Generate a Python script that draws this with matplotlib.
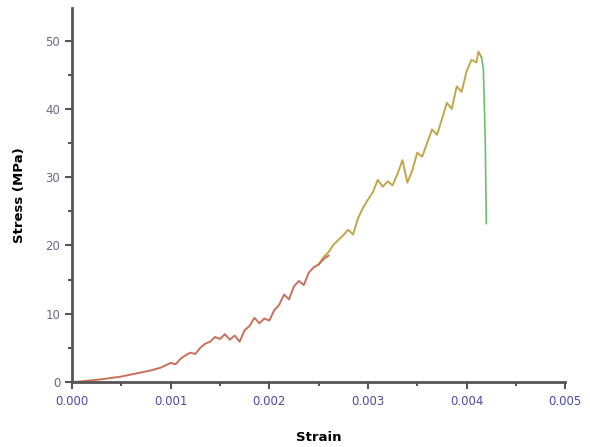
import matplotlib
matplotlib.use("Agg")
from matplotlib import pyplot as plt
from matplotlib.ticker import MultipleLocator

# loading part (red)
strain_a = [0, 0.0001, 0.0002, 0.0003, 0.0004, 0.0005, 0.0006, 0.0007, 0.0008, 0.0009,
            0.0010, 0.00105, 0.0011, 0.00115, 0.0012, 0.00125, 0.0013, 0.00135, 0.0014,
            0.00145, 0.0015, 0.00155, 0.0016, 0.00165, 0.0017, 0.00175, 0.0018, 0.00185,
            0.0019, 0.00195, 0.0020, 0.00205, 0.0021, 0.00215, 0.0022, 0.00225, 0.0023,
            0.00235, 0.0024, 0.00245, 0.0025, 0.00255, 0.0026]
stress_a = [0, 0.1, 0.25, 0.4, 0.6, 0.8, 1.1, 1.4, 1.7, 2.1,
            2.8, 2.6, 3.4, 3.9, 4.3, 4.1, 5.0, 5.6, 5.9,
            6.6, 6.3, 7.0, 6.2, 6.8, 5.9, 7.6, 8.2, 9.4,
            8.6, 9.3, 9.0, 10.5, 11.3, 12.8, 12.1, 14.0, 14.8,
            14.2, 16.0, 16.8, 17.2, 18.0, 18.5]

# upper part (olive)
strain_b = [0.0025, 0.00255, 0.0026, 0.00265, 0.0027, 0.00275, 0.0028, 0.00285, 0.0029,
            0.00295, 0.0030, 0.00305, 0.0031, 0.00315, 0.0032, 0.00325, 0.0033, 0.00335,
            0.0034, 0.00345, 0.0035, 0.00355, 0.0036, 0.00365, 0.0037, 0.00375, 0.0038,
            0.00385, 0.0039, 0.00395, 0.0040, 0.00405, 0.0041, 0.00412, 0.00415]
stress_b = [17.2, 18.3, 19.0, 20.1, 20.8, 21.5, 22.3, 21.6, 24.0,
            25.5, 26.7, 27.8, 29.6, 28.6, 29.4, 28.8, 30.5, 32.5,
            29.2, 31.0, 33.6, 33.0, 35.0, 37.0, 36.2, 38.5, 40.9,
            40.0, 43.3, 42.5, 45.5, 47.2, 46.8, 48.4, 47.6]

# fracture (green)
strain_c = [0.00415, 0.00417, 0.00419, 0.0042]
stress_c = [47.6, 46.0, 35.0, 23.2]

xticks = [0.000, 0.001, 0.002, 0.003, 0.004, 0.005]
yticks = [0, 10, 20, 30, 40, 50]

fig = plt.figure(figsize=(5.9, 4.47), dpi=100)
ax = fig.add_axes([0.122, 0.1454, 0.836, 0.837])

ax.plot(strain_b, stress_b, color="#c2a64a", lw=1.4)
ax.plot(strain_a, stress_a, color="#c8705a", lw=1.4)
ax.plot(strain_c, stress_c, color="#6cbf6c", lw=1.2)

ax.set_xlim(0, 0.005)
ax.set_ylim(0, 54.8)
ax.set_xticks(xticks)
ax.set_xticklabels(["%.3f" % v for v in xticks])
ax.set_yticks(yticks)
ax.xaxis.set_minor_locator(MultipleLocator(0.0005))
ax.yaxis.set_minor_locator(MultipleLocator(5))

for s in ["top", "right"]:
    ax.spines[s].set_visible(False)
for s in ["left", "bottom"]:
    ax.spines[s].set_color("#555555")
    ax.spines[s].set_linewidth(2)

ax.tick_params(which="major", length=5, width=1.5, color="#555555")
ax.tick_params(which="minor", length=3, width=1.5, color="#555555")
ax.tick_params(axis="x", labelcolor="#4a4aa8", labelsize=8.5, pad=4)
ax.tick_params(axis="y", labelcolor="#6a6a8a", labelsize=8.5)

ax.set_xlabel("Strain", fontsize=9.5, fontweight="bold", labelpad=17)
ax.set_ylabel("Stress (MPa)", fontsize=9.5, fontweight="bold", labelpad=14)

fig.savefig("out.png", dpi=100)
